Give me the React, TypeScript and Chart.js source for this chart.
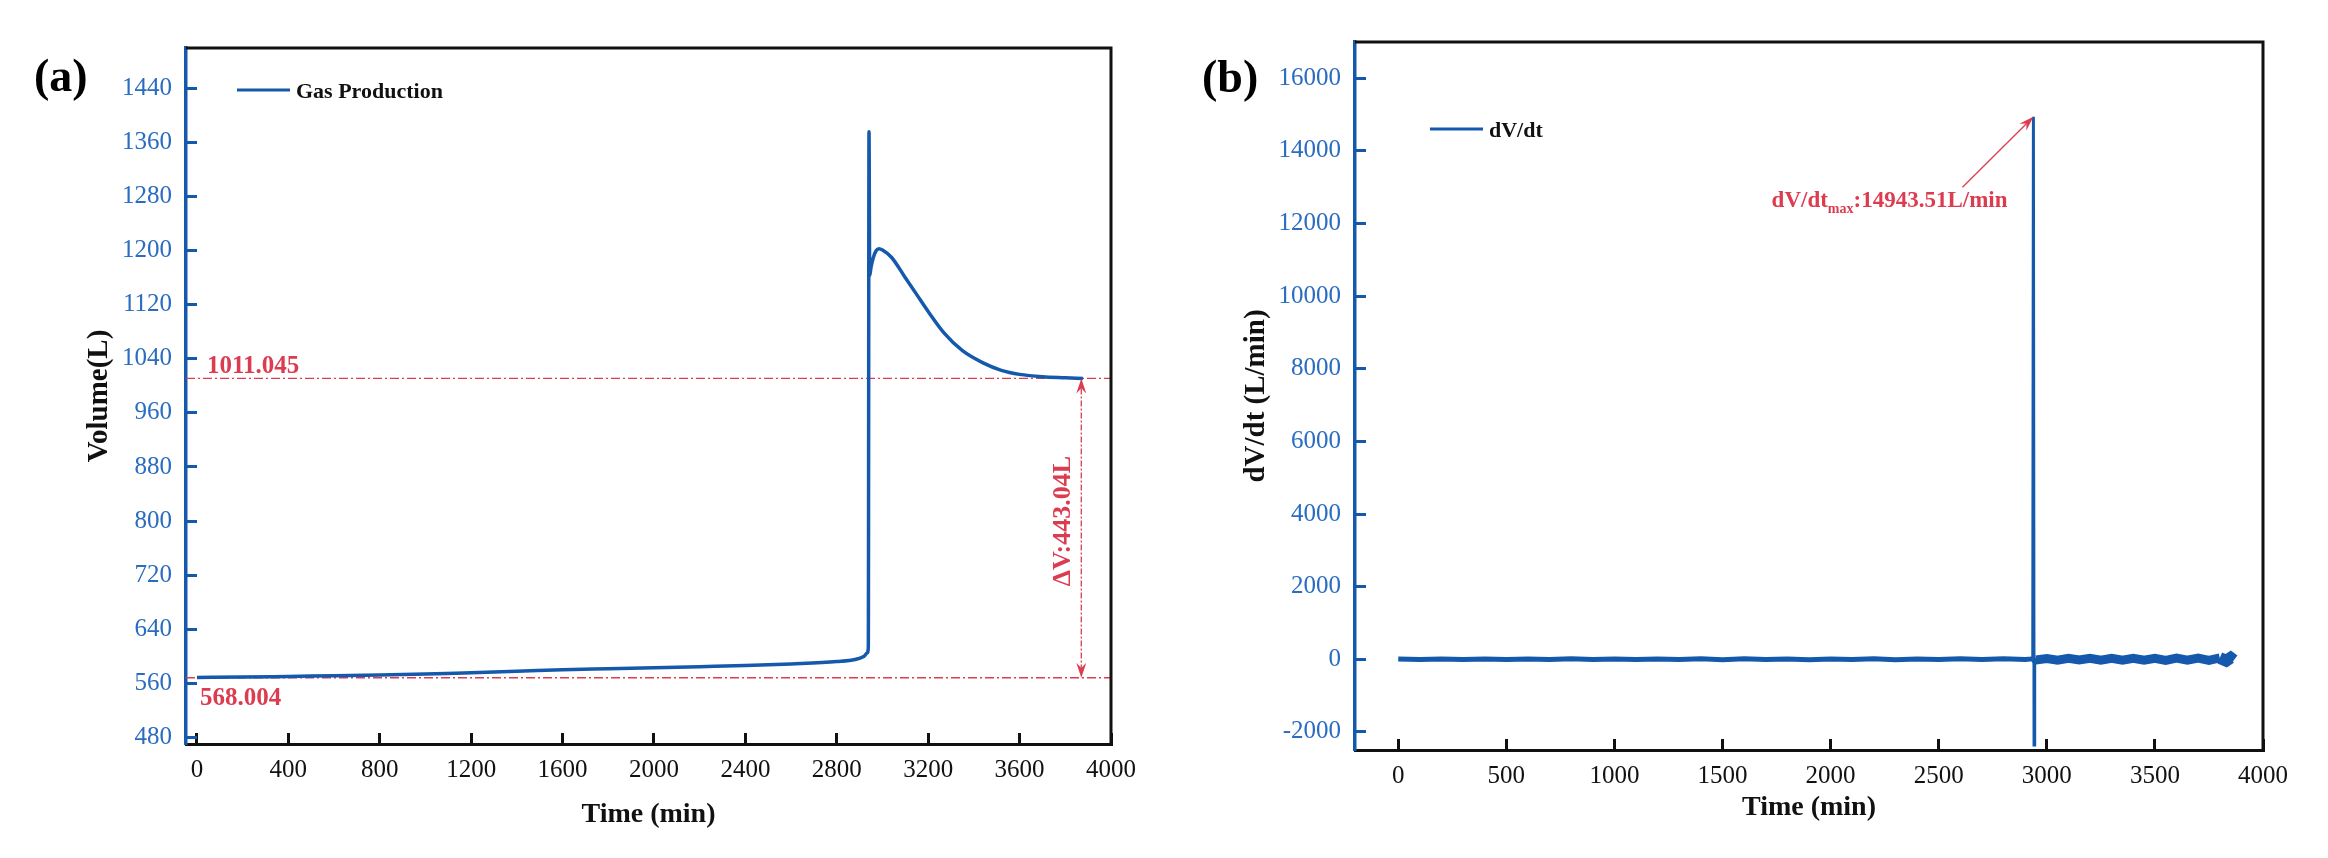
import React, { useEffect, useRef } from "react";
import { Chart, ChartConfiguration, registerables } from "chart.js";

Chart.register(...registerables);

const BLUE = "#1459ab";
const TICK_BLUE = "#2a6cbf";
const RED = "#dc3c50";
const INK = "#111111";
const SERIF = "'Liberation Serif', 'Times New Roman', serif";

// (a) cumulative gas production
const timeA = [
	0, 200, 400, 600, 800, 1000, 1200, 1400, 1600, 1800, 2000, 2200, 2400, 2600, 2800,
	2880, 2920, 2934, 2938, 2941, 2944, 2950, 2960, 2972, 2985, 3000,
	3040, 3100, 3150, 3200, 3270, 3350, 3440, 3520, 3600, 3700, 3800, 3877,
];
const volumeA = [
	568.5, 569, 570, 571, 572, 573.5, 575.5, 577.5, 580, 581.5, 583, 584.5, 586, 588.5, 592,
	595, 600, 605, 614, 1376, 1163, 1176, 1190, 1200, 1203, 1201,
	1190, 1160, 1135, 1110, 1078, 1052, 1034, 1023, 1017, 1013.5, 1012, 1011,
];
const volumeTicks = [480, 560, 640, 720, 800, 880, 960, 1040, 1120, 1200, 1280, 1360, 1440];
const timeTicksA = [0, 400, 800, 1200, 1600, 2000, 2400, 2800, 3200, 3600, 4000];
const startVolume = 568.004;
const endVolume = 1011.045;
const deltaVolume = 443.04;
const deltaAt = 3870;

// (b) production rate
const timeB = [
	0, 100, 200, 300, 400, 500, 600, 700, 800, 900, 1000, 1100, 1200, 1300, 1400,
	1500, 1600, 1700, 1800, 1900, 2000, 2100, 2200, 2300, 2400, 2500, 2600, 2700, 2800, 2900,
	2935, 2938, 2941, 2944,
	2950, 3000, 3050, 3100, 3150, 3200, 3250, 3300, 3350, 3400, 3450, 3500, 3550, 3600,
	3650, 3700, 3750, 3800, 3830, 3850, 3865,
];
const rateB = [
	6, -8, 9, -5, 7, -9, 6, -8, 10, -6, 8, -9, 7, -10, 12,
	-11, 10, -9, 8, -11, 9, -8, 10, -11, 9, -7, 11, -10, 12, -9,
	10, 14943.51, -2360, 20,
	-20, 22, -25, 24, -22, 25, -26, 24, -28, 27, -25, 28, -30, 29,
	-27, 31, -32, 35, -40, 38, -30,
];
const rateTicks = [-2000, 0, 2000, 4000, 6000, 8000, 10000, 12000, 14000, 16000];
const timeTicksB = [0, 500, 1000, 1500, 2000, 2500, 3000, 3500, 4000];
const rateMax = 14943.51;
const rateMaxAt = 2938;
const rateLabelAt = [1727, 12450];
const rateArrowFrom = [2610, 13000];

const toPoints = (xs: number[], ys: number[]) => xs.map((x, i) => ({ x, y: ys[i] }));

function arrowHead(ctx: CanvasRenderingContext2D, x: number, y: number, angle: number, len = 15, half = 5) {
	ctx.save();
	ctx.translate(x, y);
	ctx.rotate(angle);
	ctx.beginPath();
	ctx.moveTo(0, 0);
	ctx.lineTo(-len, -half);
	ctx.lineTo(-len * 0.65, 0);
	ctx.lineTo(-len, half);
	ctx.closePath();
	ctx.fill();
	ctx.restore();
}

function drawFrame(ctx: CanvasRenderingContext2D, a: any) {
	ctx.save();
	ctx.strokeStyle = INK;
	ctx.lineWidth = 3;
	ctx.beginPath();
	ctx.moveTo(a.left, a.top);
	ctx.lineTo(a.right, a.top);
	ctx.lineTo(a.right, a.bottom);
	ctx.stroke();
	ctx.restore();
}

function drawLegend(ctx: CanvasRenderingContext2D, x0: number, y: number, label: string) {
	ctx.save();
	ctx.strokeStyle = BLUE;
	ctx.lineWidth = 3;
	ctx.beginPath();
	ctx.moveTo(x0, y);
	ctx.lineTo(x0 + 53, y);
	ctx.stroke();
	ctx.fillStyle = INK;
	ctx.font = `bold 22px ${SERIF}`;
	ctx.textAlign = "left";
	ctx.textBaseline = "alphabetic";
	ctx.fillText(label, x0 + 59, y + 8);
	ctx.restore();
}

function drawLetter(ctx: CanvasRenderingContext2D, text: string, x: number, baseline: number) {
	ctx.save();
	ctx.fillStyle = "#000";
	ctx.font = `bold 46px ${SERIF}`;
	ctx.textAlign = "left";
	ctx.textBaseline = "alphabetic";
	ctx.fillText(text, x, baseline);
	ctx.restore();
}

function timeAxis(ticks: number[], min: number, height: number, titlePad: number) {
	return {
		type: "linear",
		min,
		max: 4000,
		afterBuildTicks: (s: any) => {
			s.ticks = ticks.map((v) => ({ value: v }));
		},
		afterFit: (s: any) => {
			s.height = height;
		},
		grid: { drawOnChartArea: false, drawTicks: true, tickLength: -11, tickWidth: 3, tickColor: INK },
		border: { display: true, color: INK, width: 3 },
		ticks: {
			color: INK,
			font: { family: SERIF, size: 25 },
			padding: 22,
			maxRotation: 0,
			autoSkip: false,
			callback: (v: any) => String(v),
		},
		title: {
			display: true,
			text: "Time (min)",
			color: INK,
			font: { family: SERIF, size: 28, weight: "bold" },
			padding: { top: 0, bottom: titlePad },
		},
	};
}

function valueAxis(ticks: number[], min: number, max: number, width: number, title: string, titlePad: number) {
	return {
		type: "linear",
		min,
		max,
		afterBuildTicks: (s: any) => {
			s.ticks = ticks.map((v) => ({ value: v }));
		},
		afterFit: (s: any) => {
			s.width = width;
		},
		grid: { drawOnChartArea: false, drawTicks: true, tickLength: -11, tickWidth: 3, tickColor: BLUE },
		border: { display: true, color: BLUE, width: 3.5 },
		ticks: {
			color: TICK_BLUE,
			font: { family: SERIF, size: 25 },
			padding: 25,
			autoSkip: false,
			callback: (v: any) => String(v),
		},
		title: {
			display: true,
			text: title,
			color: INK,
			font: { family: SERIF, size: 29, weight: "bold" },
			padding: { top: titlePad, bottom: 0 },
		},
	};
}

const gasDecor = {
	id: "gasDecor",
	beforeDatasetsDraw(chart: any) {
		const { ctx, chartArea: a, scales } = chart;
		ctx.save();
		ctx.strokeStyle = RED;
		ctx.lineWidth = 1.4;
		ctx.setLineDash([9, 3, 2, 3]);
		for (const v of [endVolume, startVolume]) {
			const py = scales.y.getPixelForValue(v);
			ctx.beginPath();
			ctx.moveTo(a.left, py);
			ctx.lineTo(a.right, py);
			ctx.stroke();
		}
		ctx.restore();
	},
	afterDraw(chart: any) {
		const { ctx, chartArea: a, scales } = chart;
		drawFrame(ctx, a);
		const yEnd = scales.y.getPixelForValue(endVolume);
		const yStart = scales.y.getPixelForValue(startVolume);
		const xd = scales.x.getPixelForValue(deltaAt);

		ctx.save();
		ctx.fillStyle = RED;
		ctx.strokeStyle = RED;
		ctx.font = `bold 25px ${SERIF}`;
		ctx.textAlign = "left";
		ctx.textBaseline = "alphabetic";
		ctx.fillText(endVolume.toFixed(3), a.left + 21, yEnd - 5);
		ctx.fillText(startVolume.toFixed(3), a.left + 14, yStart + 27);

		ctx.lineWidth = 1.3;
		ctx.setLineDash([6, 2, 2, 2]);
		ctx.beginPath();
		ctx.moveTo(xd, yEnd + 10);
		ctx.lineTo(xd, yStart - 10);
		ctx.stroke();
		ctx.setLineDash([]);
		arrowHead(ctx, xd, yEnd, -Math.PI / 2);
		arrowHead(ctx, xd, yStart, Math.PI / 2);

		ctx.translate(xd - 18, (yEnd + yStart) / 2 - 7);
		ctx.rotate(-Math.PI / 2);
		ctx.font = `bold 26px ${SERIF}`;
		ctx.textAlign = "center";
		ctx.textBaseline = "middle";
		ctx.fillText(`ΔV:${deltaVolume.toFixed(2)}L`, 0, 0);
		ctx.restore();

		drawLegend(ctx, a.left + 51, 90, "Gas Production");
		drawLetter(ctx, "(a)", 34, 91);
	},
};

const rateDecor = {
	id: "rateDecor",
	afterDraw(chart: any) {
		const { ctx, chartArea: a, scales } = chart;
		drawFrame(ctx, a);
		const tipX = scales.x.getPixelForValue(rateMaxAt);
		const tipY = scales.y.getPixelForValue(rateMax);
		const fromX = scales.x.getPixelForValue(rateArrowFrom[0]);
		const fromY = scales.y.getPixelForValue(rateArrowFrom[1]);

		ctx.save();
		ctx.strokeStyle = RED;
		ctx.fillStyle = RED;
		ctx.lineWidth = 1.3;
		ctx.beginPath();
		ctx.moveTo(fromX, fromY);
		ctx.lineTo(tipX - 2, tipY + 2);
		ctx.stroke();
		arrowHead(ctx, tipX, tipY, Math.atan2(tipY - fromY, tipX - fromX), 15, 5);

		let tx = scales.x.getPixelForValue(rateLabelAt[0]);
		const ty = scales.y.getPixelForValue(rateLabelAt[1]);
		ctx.textAlign = "left";
		ctx.textBaseline = "alphabetic";
		ctx.font = `bold 23px ${SERIF}`;
		ctx.fillText("dV/dt", tx, ty);
		tx += ctx.measureText("dV/dt").width;
		ctx.font = `bold 14px ${SERIF}`;
		ctx.fillText("max", tx, ty + 6);
		tx += ctx.measureText("max").width;
		ctx.font = `bold 23px ${SERIF}`;
		ctx.fillText(`:${rateMax.toFixed(2)}L/min`, tx, ty);
		ctx.restore();

		drawLegend(ctx, a.left + 75, 129, "dV/dt");
		drawLetter(ctx, "(b)", 32, 92);
	},
};

function buildGas(): ChartConfiguration {
	return {
		type: "line",
		data: {
			datasets: [
				{
					label: "Gas Production",
					data: toPoints(timeA, volumeA),
					borderColor: BLUE,
					borderWidth: 3.5,
					pointRadius: 0,
					cubicInterpolationMode: "monotone",
				},
			],
		},
		options: {
			animation: false,
			responsive: true,
			maintainAspectRatio: false,
			layout: { padding: { top: 48, right: 59, bottom: 0, left: 0 } },
			plugins: { legend: { display: false }, tooltip: { enabled: false } },
			scales: {
				x: timeAxis(timeTicksA, -48, 114, 26),
				y: valueAxis(volumeTicks, 470, 1500, 186, "Volume(L)", 82),
			} as any,
		},
		plugins: [gasDecor],
	} as ChartConfiguration;
}

function buildRate(): ChartConfiguration {
	return {
		type: "line",
		data: {
			datasets: [
				{
					label: "dV/dt",
					data: toPoints(timeB, rateB),
					borderColor: BLUE,
					borderWidth: 5,
					pointRadius: 0,
					tension: 0,
					segment: {
						borderWidth: (c: any) => {
							if (Math.abs(c.p0.parsed.y) > 1000 || Math.abs(c.p1.parsed.y) > 1000) return 3;
							if (c.p0.parsed.x >= 3800) return 12;
							if (c.p0.parsed.x >= 2944) return 9;
							return 5;
						},
					},
				},
			],
		},
		options: {
			animation: false,
			responsive: true,
			maintainAspectRatio: false,
			layout: { padding: { top: 42, right: 65, bottom: 0, left: 0 } },
			plugins: { legend: { display: false }, tooltip: { enabled: false } },
			scales: {
				x: timeAxis(timeTicksB, -200, 108, 33),
				y: valueAxis(rateTicks, -2500, 17000, 185, "dV/dt (L/min)", 69),
			} as any,
		},
		plugins: [rateDecor],
	} as ChartConfiguration;
}

const ChartPanel: React.FC<{ left: number; width: number; build: () => ChartConfiguration }> = ({ left, width, build }) => {
	const canvasRef = useRef<HTMLCanvasElement | null>(null);

	useEffect(() => {
		if (!canvasRef.current) return;
		const chart = new Chart(canvasRef.current, build());
		return () => {
			chart.destroy();
		};
	}, [build]);

	return (
		<div style={{ position: "absolute", left, top: 0, width, height: 858 }}>
			<canvas ref={canvasRef} />
		</div>
	);
};

export default function App() {
	return (
		<div style={{ position: "absolute", left: 0, top: 0, width: 2328, height: 858, background: "#fff" }}>
			<ChartPanel left={0} width={1170} build={buildGas} />
			<ChartPanel left={1170} width={1158} build={buildRate} />
		</div>
	);
}
